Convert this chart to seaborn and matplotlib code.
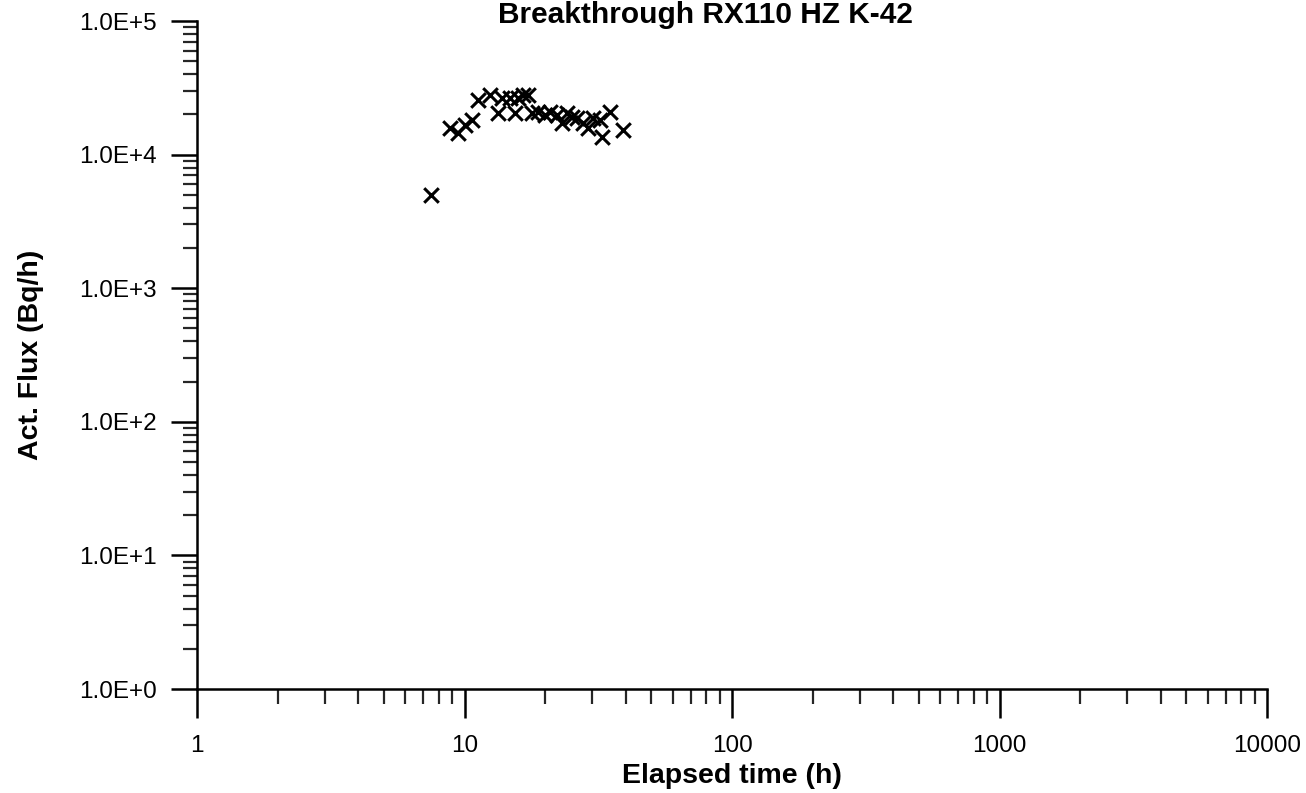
import numpy as np
import pandas as pd
import matplotlib
matplotlib.use("Agg")
import matplotlib.pyplot as plt
import matplotlib.ticker as mticker
import seaborn as sns

# ---- data ----
elapsed_h = [7.5, 8.83, 9.46, 10.04, 10.67, 11.23, 12.45, 13.35, 13.81, 14.8,
             15.45, 15.85, 16.55, 17.28, 17.88, 18.83, 20.0, 20.87, 22.17, 23.14,
             24.17, 25.23, 26.34, 27.73, 28.95, 30.2, 32.1, 32.7, 35.0, 39.1]
act_flux = [5000, 15800, 14500, 16700, 18100, 25600, 27900, 20500, 26500, 26500,
            20500, 26500, 27900, 27900, 20500, 20800, 19800, 20800, 19800, 17200,
            20500, 19100, 18800, 17200, 15800, 18800, 18100, 13500, 20800, 15300]

x_ticks = [1, 10, 100, 1000, 10000]
x_tick_labels = ["1", "10", "100", "1000", "10000"]
y_ticks = [1, 10, 100, 1000, 10000, 100000]
y_tick_labels = ["1.0E+0", "1.0E+1", "1.0E+2", "1.0E+3", "1.0E+4", "1.0E+5"]

title = "Breakthrough RX110 HZ K-42"
x_label = "Elapsed time (h)"
y_label = "Act. Flux (Bq/h)"

df = pd.DataFrame({"t": elapsed_h, "flux": act_flux})

sns.set_style("ticks")
plt.rcParams["font.family"] = ["Liberation Sans", "DejaVu Sans"]

fig = plt.figure(figsize=(13.06, 7.93), dpi=100)
ax = fig.add_axes([197 / 1306, 1 - 689 / 793, (1267 - 197) / 1306, (689 - 21) / 793])

sns.scatterplot(data=df, x="t", y="flux", marker="x", color="black",
                s=110, linewidth=2.2, ax=ax, legend=False)

ax.set_xscale("log")
ax.set_yscale("log")
ax.set_xlim(1, 10000)
ax.set_ylim(1, 100000)

ax.xaxis.set_major_locator(mticker.FixedLocator(x_ticks))
ax.xaxis.set_major_formatter(mticker.FixedFormatter(x_tick_labels))
ax.yaxis.set_major_locator(mticker.FixedLocator(y_ticks))
ax.yaxis.set_major_formatter(mticker.FixedFormatter(y_tick_labels))
ax.xaxis.set_minor_locator(mticker.LogLocator(base=10, subs=np.arange(2, 10), numticks=20))
ax.yaxis.set_minor_locator(mticker.LogLocator(base=10, subs=np.arange(2, 10), numticks=20))
ax.xaxis.set_minor_formatter(mticker.NullFormatter())
ax.yaxis.set_minor_formatter(mticker.NullFormatter())

for side in ["top", "right"]:
    ax.spines[side].set_visible(False)
for side in ["left", "bottom"]:
    ax.spines[side].set_linewidth(1.8)
    ax.spines[side].set_color("black")

ax.tick_params(axis="x", which="major", direction="out", length=21, width=1.8,
               pad=12, labelsize=17.5, colors="black")
ax.tick_params(axis="x", which="minor", direction="out", length=11, width=1.6)
ax.tick_params(axis="y", which="major", direction="out", length=19, width=1.8,
               pad=10, labelsize=17.5, colors="black")
ax.tick_params(axis="y", which="minor", direction="out", length=10, width=1.6)

ax.set_xlabel(x_label, fontsize=20.5, fontweight="bold", color="black")
ax.set_ylabel(y_label, fontsize=20.5, fontweight="bold", color="black")
ax.xaxis.set_label_coords(0.5, (689 - 763) / 668)
ax.yaxis.set_label_coords((44 - 197) / 1070, 0.5)

fig.text(706 / 1306, 1 - 1 / 793, title, ha="center", va="top",
         fontsize=21.5, fontweight="bold", color="black")

fig.savefig("out.png", dpi=100)
